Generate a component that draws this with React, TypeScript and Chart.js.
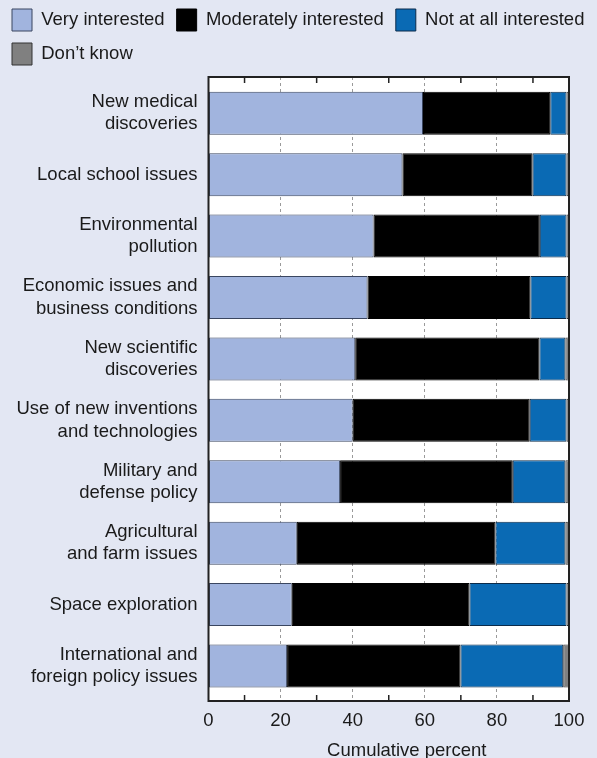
import React, { useEffect, useRef } from "react";
import { Chart, registerables } from "chart.js";

Chart.register(...registerables);

const categories: string[][] = [
  ["New medical", "discoveries"],
  ["Local school issues"],
  ["Environmental", "pollution"],
  ["Economic issues and", "business conditions"],
  ["New scientific", "discoveries"],
  ["Use of new inventions", "and technologies"],
  ["Military and", "defense policy"],
  ["Agricultural", "and farm issues"],
  ["Space exploration"],
  ["International and", "foreign policy issues"],
];
const categoryIndex = categories.map((_, i) => i);

const veryInterested = [59.5, 53.8, 45.8, 44.1, 40.7, 40.0, 36.5, 24.5, 23.1, 21.8];
const moderatelyInterested = [35.3, 36.1, 46.1, 45.2, 51.1, 49.1, 47.9, 55.1, 49.3, 48.1];
const notAtAllInterested = [4.5, 9.4, 7.4, 10.0, 7.2, 10.2, 14.6, 19.4, 26.9, 28.5];
const dontKnow = [0.7, 0.7, 0.7, 0.7, 1.0, 0.7, 1.0, 1.0, 0.7, 1.6];

const seriesNames = ["Very interested", "Moderately interested", "Not at all interested", "Don\u2019t know"];
const xLabeledTicks = [0, 20, 40, 60, 80, 100];
const xMinorTicks = [10, 30, 50, 70, 90];
const xTitle = "Cumulative percent";

const BG = "#e3e7f3";
const TEXT = "#1a1a1a";
const FONT = "'Liberation Sans', Arial, Helvetica, sans-serif";

const framePlugin = {
  id: "framePlugin",
  afterLayout(chart: any) {
    const t = chart.titleBlock;
    const a = chart.chartArea;
    if (t && a) {
      const center = a.left + (a.right - a.left) * 0.55;
      t.left = 2 * center - t.right;
    }
  },
  beforeDraw(chart: any) {
    const { ctx, chartArea: a, width, height } = chart;
    ctx.save();
    ctx.fillStyle = BG;
    ctx.fillRect(0, 0, width, height);
    ctx.fillStyle = "#ffffff";
    ctx.fillRect(a.left, a.top, a.right - a.left, a.bottom - a.top);
    ctx.restore();
  },
  afterDatasetsDraw(chart: any) {
    const { ctx, chartArea: a } = chart;
    const xs = chart.scales.x;
    ctx.save();
    ctx.strokeStyle = "#222222";
    ctx.lineWidth = 1.5;
    ctx.beginPath();
    for (const v of xMinorTicks) {
      const px = xs.getPixelForValue(v);
      ctx.moveTo(px, a.bottom);
      ctx.lineTo(px, a.bottom - 6);
      ctx.moveTo(px, a.top);
      ctx.lineTo(px, a.top + 6);
    }
    ctx.stroke();
    ctx.lineWidth = 2;
    ctx.strokeRect(a.left, a.top, a.right - a.left, a.bottom - a.top);
    ctx.restore();
  },
};

export default function App() {
  const ref = useRef<HTMLCanvasElement | null>(null);

  useEffect(() => {
    document.body.style.margin = "0";
    document.body.style.background = BG;
    Chart.defaults.font.family = FONT;
    Chart.defaults.color = TEXT;
    const canvas = ref.current!;
    const mk = (label: string, data: number[], color: string, border: string) => ({
      label,
      data,
      backgroundColor: color,
      borderColor: border,
      borderWidth: 1,
      borderSkipped: false,
      barPercentage: 0.7,
      categoryPercentage: 1,
    });
    const chart = new Chart(canvas, {
      type: "bar",
      data: {
        labels: categoryIndex,
        datasets: [
          mk(seriesNames[0], veryInterested, "#a1b4de", "#3a4660"),
          mk(seriesNames[1], moderatelyInterested, "#000000", "#000000"),
          mk(seriesNames[2], notAtAllInterested, "#0a6ab4", "#0b2b4a"),
          mk(seriesNames[3], dontKnow, "#808080", "#333333"),
        ] as any,
      },
      options: {
        indexAxis: "y",
        responsive: false,
        animation: false,
        devicePixelRatio: 1,
        layout: { padding: { top: -3, left: 0, right: 0, bottom: 0 } },
        plugins: {
          tooltip: { enabled: false },
          legend: {
            position: "top",
            align: "start",
            labels: {
              boxWidth: 20,
              boxHeight: 22,
              padding: 12,
              color: TEXT,
              font: { size: 18.5, family: FONT },
            },
          },
          title: {
            display: true,
            position: "bottom",
            text: xTitle,
            color: TEXT,
            font: { size: 18.5, weight: "normal", family: FONT, lineHeight: 1 },
            padding: { top: 11, bottom: -2.5 },
          },
        },
        scales: {
          x: {
            type: "linear",
            stacked: true,
            min: 0,
            max: 100,
            afterFit: (s: any) => {
              s.height = 30;
            },
            ticks: {
              stepSize: 20,
              padding: 9,
              color: TEXT,
              font: { size: 18.5, family: FONT },
              callback: (v: any) => (xLabeledTicks.includes(Number(v)) ? String(v) : ""),
            },
            grid: {
              drawTicks: false,
              lineWidth: 1,
              color: (ctx: any) =>
                ctx.tick && ctx.tick.value > 0 && ctx.tick.value < 100 ? "#9a9a9a" : "rgba(0,0,0,0)",
            },
            border: { display: false, dash: [3, 3] },
          },
          xTop: {
            type: "linear",
            position: "top",
            display: true,
            grid: { display: false, drawTicks: false },
            border: { display: false },
            ticks: { display: false },
            afterFit: (s: any) => {
              s.height = 2;
            },
          },
          y: {
            type: "linear",
            stacked: true,
            reverse: true,
            offset: false,
            min: -0.59,
            max: 9.57,
            afterFit: (s: any) => {
              s.width = 208.5;
            },
            ticks: {
              stepSize: 1,
              includeBounds: false,
              autoSkip: false,
              padding: 11,
              color: TEXT,
              font: { size: 18.5, family: FONT },
              callback: (v: any) => (Number.isInteger(Number(v)) && categories[Number(v)] ? categories[Number(v)] : ""),
            },
            grid: { display: false, drawTicks: false, offset: false },
            border: { display: false },
          },
          yRight: {
            type: "linear",
            position: "right",
            display: true,
            grid: { display: false, drawTicks: false },
            border: { display: false },
            ticks: { display: false },
            afterFit: (s: any) => {
              s.width = 28;
            },
          },
        },
      } as any,
      plugins: [framePlugin],
    });
    return () => chart.destroy();
  }, []);

  return (
    <div style={{ width: 597, height: 758, background: BG }}>
      <canvas ref={ref} width={597} height={758} style={{ display: "block", width: 597, height: 758 }} />
    </div>
  );
}
